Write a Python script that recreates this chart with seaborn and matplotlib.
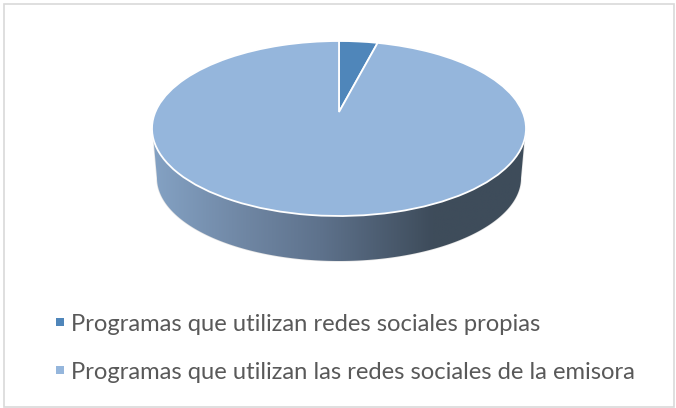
import numpy as np
import matplotlib
matplotlib.use("Agg")
import matplotlib.pyplot as plt
from matplotlib.path import Path
from matplotlib.patches import Polygon, Rectangle
from matplotlib.colors import LinearSegmentedColormap
import seaborn as sns

categories = ["Programas que utilizan redes sociales propias",
              "Programas que utilizan las redes sociales de la emisora"]
values = [4, 96]
colors = ["#4F86BA", "#95B6DC"]

sns.set_theme(style="white")
plt.rcParams["font.family"] = ["Lato", "DejaVu Sans"]

W, H = 676, 408
fig = plt.figure(figsize=(W / 100, H / 100), dpi=100)
ax = fig.add_axes([0, 0, 1, 1])

wedges, _ = ax.pie(values, colors=colors, startangle=90, counterclock=False,
                   wedgeprops=dict(edgecolor="white", linewidth=1.3))
ax.set_aspect("auto")
ax.set_xlim(0, W)
ax.set_ylim(H, 0)
ax.set_axis_off()

CX, CY, RX, RY, TIP = 339, 128.5, 187, 87.5, -16.5
c = 33 / 175


def project(v):
    u, w = v[:, 0], v[:, 1]
    d = 1 + c * w
    return np.column_stack([CX + RX * np.sqrt(1 - c ** 2) * u / d,
                            CY + (-RY * w + TIP) / d])


for w in wedges:
    p = w.get_path()
    w._path = Path(project(p.vertices), p.codes)
    w.set_zorder(3)

# rim of the disc
t = np.linspace(np.pi, 0, 200)
bx, by = 339 + 182 * np.cos(t), 178 + 83 * np.sin(t)
rim = np.vstack([[[152.5, 128.5]], np.column_stack([bx, by]), [[525.5, 128.5]]])
clip = Polygon(rim, closed=True, transform=ax.transData, facecolor="none",
               edgecolor="#E4E4E4", linewidth=1.0, zorder=1)
ax.add_patch(clip)
cmap = LinearSegmentedColormap.from_list("rim", [
    (0.0, "#84A2C4"), (0.25, "#6F86A3"), (0.45, "#5E728C"),
    (0.75, "#3E4C5B"), (1.0, "#3E4C5A")])
img = ax.imshow(np.linspace(0, 1, 256)[None, :], cmap=cmap, aspect="auto",
                extent=[152, 526, 262, 120], zorder=2)
img.set_clip_path(clip)
ax.set_xlim(0, W)
ax.set_ylim(H, 0)

ax.add_patch(Rectangle((4, 3.5), 669.5, 403, facecolor="none",
                       edgecolor="#D9D9D9", linewidth=1.2, zorder=5))

leg = ax.legend(wedges, categories, loc="lower left",
                bbox_to_anchor=(56 / W, 1 - 383 / H), frameon=False,
                fontsize=17.1, labelcolor="#595959", handlelength=0.34,
                handleheight=0.146, handletextpad=0.3, labelspacing=1.15,
                borderpad=0, borderaxespad=0)
for h in leg.legend_handles:
    h.set_linewidth(0)

fig.savefig("out.png", dpi=100)
